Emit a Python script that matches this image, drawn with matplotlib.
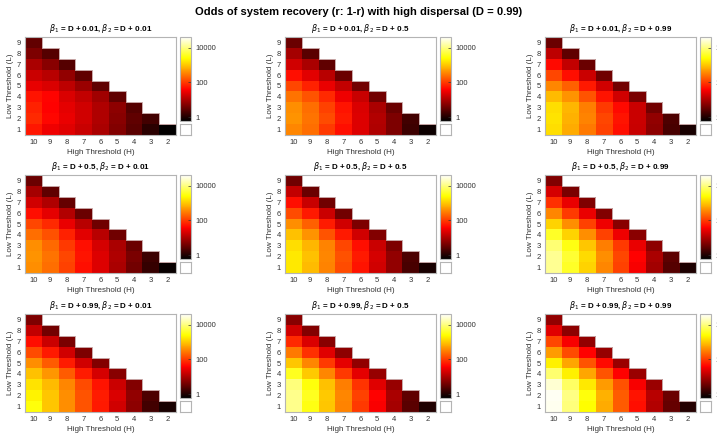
import numpy as np
import matplotlib
matplotlib.use("Agg")
import matplotlib.pyplot as plt
from matplotlib.colors import LogNorm, LinearSegmentedColormap

plt.rcParams["font.family"] = ["Liberation Sans", "DejaVu Sans"]

high_thresholds = [10, 9, 8, 7, 6, 5, 4, 3, 2]
low_thresholds = [1, 2, 3, 4, 5, 6, 7, 8, 9]
beta1_offsets = ["0.01", "0.5", "0.99"]
beta2_offsets = ["0.01", "0.5", "0.99"]

# log10 of odds; one row per low threshold L = 1..9, values for H = 10 down to L+1
odds_01_01 = [
    [1.75, 1.50, 1.38, 1.20, 1.00, 0.72, 0.44, 0.09, -0.20],
    [1.88, 1.65, 1.45, 1.27, 1.03, 0.75, 0.47, 0.27],
    [1.84, 1.60, 1.42, 1.27, 1.03, 0.79, 0.40],
    [1.73, 1.62, 1.34, 1.17, 0.93, 0.47],
    [1.44, 1.34, 1.13, 0.89, 0.47],
    [1.23, 1.10, 0.82, 0.47],
    [1.00, 0.75, 0.40],
    [0.67, 0.40],
    [0.49],
]
odds_01_50 = [
    [2.56, 2.38, 2.00, 1.70, 1.35, 1.03, 0.68, 0.23, -0.12],
    [2.64, 2.42, 2.13, 1.77, 1.36, 1.06, 0.68, 0.27],
    [2.60, 2.38, 2.06, 1.73, 1.34, 1.00, 0.54],
    [2.42, 2.20, 1.88, 1.50, 1.20, 0.61],
    [2.10, 1.84, 1.45, 1.17, 0.61],
    [1.70, 1.40, 1.10, 0.54],
    [1.27, 1.00, 0.47],
    [0.96, 0.44],
    [0.54],
]
odds_01_99 = [
    [3.18, 2.82, 2.46, 2.06, 1.70, 1.20, 0.79, 0.30, -0.05],
    [3.22, 2.86, 2.53, 2.10, 1.73, 1.23, 0.82, 0.34],
    [3.18, 2.90, 2.50, 2.00, 1.66, 1.23, 0.61],
    [2.93, 2.64, 2.20, 1.73, 1.27, 0.65],
    [2.56, 2.28, 1.77, 1.27, 0.61],
    [2.10, 1.70, 1.23, 0.58],
    [1.66, 1.17, 0.54],
    [1.13, 0.47],
    [0.54],
]
odds_50_01 = [
    [2.60, 2.38, 2.06, 1.69, 1.35, 1.00, 0.61, 0.16, -0.15],
    [2.64, 2.42, 2.10, 1.73, 1.36, 1.03, 0.65, 0.23],
    [2.60, 2.35, 2.00, 1.70, 1.30, 1.00, 0.54],
    [2.38, 2.17, 1.84, 1.40, 1.10, 0.58],
    [2.10, 1.88, 1.46, 1.10, 0.58],
    [1.70, 1.42, 1.06, 0.54],
    [1.27, 1.03, 0.51],
    [0.96, 0.47],
    [0.54],
]
odds_50_50 = [
    [3.26, 2.93, 2.53, 2.13, 1.73, 1.27, 0.82, 0.30, -0.05],
    [3.26, 2.96, 2.56, 2.17, 1.77, 1.30, 0.82, 0.34],
    [3.18, 2.90, 2.53, 2.10, 1.70, 1.23, 0.68],
    [2.96, 2.64, 2.20, 1.77, 1.27, 0.72],
    [2.60, 2.28, 1.80, 1.27, 0.68],
    [2.13, 1.77, 1.23, 0.61],
    [1.70, 1.20, 0.58],
    [1.17, 0.54],
    [0.58],
]
odds_50_99 = [
    [4.10, 3.60, 3.10, 2.55, 2.05, 1.55, 0.95, 0.40, 0.00],
    [4.10, 3.65, 3.15, 2.60, 2.10, 1.60, 1.00, 0.45],
    [3.95, 3.50, 3.00, 2.50, 2.00, 1.45, 0.80],
    [3.60, 3.10, 2.60, 2.05, 1.50, 0.78],
    [3.10, 2.60, 2.05, 1.50, 0.75],
    [2.55, 2.00, 1.45, 0.72],
    [1.95, 1.45, 0.70],
    [1.30, 0.65],
    [0.70],
]
odds_99_01 = [
    [3.45, 3.00, 2.60, 2.20, 1.77, 1.27, 0.79, 0.27, -0.05],
    [3.33, 3.00, 2.60, 2.20, 1.80, 1.34, 0.82, 0.34],
    [3.22, 2.93, 2.56, 2.13, 1.73, 1.23, 0.72],
    [2.96, 2.67, 2.24, 1.80, 1.30, 0.75],
    [2.60, 2.24, 1.80, 1.27, 0.72],
    [2.13, 1.77, 1.27, 0.68],
    [1.70, 1.23, 0.65],
    [1.17, 0.61],
    [0.68],
]
odds_99_50 = [
    [4.07, 3.50, 3.00, 2.53, 2.00, 1.57, 0.96, 0.44, 0.02],
    [4.07, 3.55, 3.03, 2.56, 2.06, 1.60, 1.00, 0.47],
    [3.98, 3.45, 2.96, 2.50, 1.97, 1.38, 0.86],
    [3.55, 3.03, 2.56, 2.00, 1.41, 0.86],
    [3.00, 2.56, 2.00, 1.41, 0.82],
    [2.46, 1.95, 1.37, 0.79],
    [1.88, 1.34, 0.75],
    [1.27, 0.72],
    [0.75],
]
odds_99_99 = [
    [4.53, 3.98, 3.40, 2.82, 2.24, 1.69, 1.06, 0.51, 0.05],
    [4.55, 4.03, 3.45, 2.86, 2.24, 1.73, 1.10, 0.54],
    [4.41, 3.88, 3.26, 2.70, 2.17, 1.55, 0.89],
    [3.93, 3.30, 2.78, 2.20, 1.60, 0.89],
    [3.30, 2.78, 2.20, 1.66, 0.89],
    [2.70, 2.13, 1.60, 0.86],
    [2.10, 1.55, 0.82],
    [1.37, 0.79],
    [0.82],
]

panels = [
    [odds_01_01, odds_01_50, odds_01_99],
    [odds_50_01, odds_50_50, odds_50_99],
    [odds_99_01, odds_99_50, odds_99_99],
]

# MATLAB-style "hot" colormap
hot = LinearSegmentedColormap("matlab_hot", {
    "red": [(0, 0, 0), (0.375, 1, 1), (1, 1, 1)],
    "green": [(0, 0, 0), (0.375, 0, 0), (0.75, 1, 1), (1, 1, 1)],
    "blue": [(0, 0, 0), (0.75, 0, 0), (1, 1, 1)],
})
hot.set_bad("white")
norm = LogNorm(vmin=0.6, vmax=42000)

W, H = 717, 438


def px_rect(x0, y0, x1, y1):
    return [x0 / W, 1 - y1 / H, (x1 - x0) / W, (y1 - y0) / H]


def to_grid(rows):
    grid = np.full((len(low_thresholds), len(high_thresholds)), np.nan)
    for i, row in enumerate(rows):
        grid[i, :len(row)] = 10.0 ** np.array(row)
    return grid


fig = plt.figure(figsize=(W / 100, H / 100), dpi=100)
fig.text(0.5, 1 - 12 / H, "Odds of system recovery (r: 1-r) with high dispersal (D = 0.99)",
         ha="center", va="center", fontsize=8, fontweight="bold")

col_left = [25, 285, 545]
row_top = [37, 175, 314]
frame = "#b4b4b4"
txt = "#333333"

for r in range(3):
    for c in range(3):
        x0, y0 = col_left[c], row_top[r]
        ax = fig.add_axes(px_rect(x0, y0, x0 + 151, y0 + 98))
        grid = to_grid(panels[r][c])
        ax.imshow(grid, origin="lower", cmap=hot, norm=norm, aspect="auto",
                  interpolation="nearest", extent=(-0.5, 8.5, -0.5, 8.5))
        # outline of the triangle
        sx, sy = [-0.5], [8.5]
        for j in range(len(high_thresholds)):
            top = len(low_thresholds) - j - 0.5
            sx += [j - 0.5, j + 0.5]
            sy += [top, top]
        sx.append(8.5)
        sy.append(-0.5)
        ax.plot(sx, sy, color="#c8a8a8", lw=0.7)
        ax.set_xlim(-0.5, 8.5)
        ax.set_ylim(-0.5, 8.5)
        ax.set_xticks(range(len(high_thresholds)))
        ax.set_xticklabels(high_thresholds)
        ax.set_yticks(range(len(low_thresholds)))
        ax.set_yticklabels(low_thresholds)
        ax.tick_params(length=0, labelsize=5.5, colors=txt, pad=3)
        for s in ax.spines.values():
            s.set_color(frame)
            s.set_linewidth(0.8)
        ax.set_xlabel("High Threshold (H)", fontsize=5.8, color=txt, labelpad=2)
        ax.set_ylabel("Low Threshold (L)", fontsize=5.8, color=txt, labelpad=2)
        ax.set_title(rf"$\beta_1$ = D + {beta1_offsets[r]}, $\beta_2$ = D + {beta2_offsets[c]}",
                     fontsize=5.8, fontweight="bold", pad=4)

        cx = x0 + 155
        cax = fig.add_axes(px_rect(cx, y0, cx + 11, y0 + 84))
        sm = plt.cm.ScalarMappable(norm=norm, cmap=hot)
        cb = fig.colorbar(sm, cax=cax)
        cb.set_ticks([1, 100, 10000])
        cb.set_ticklabels(["1", "100", "10000"])
        cb.minorticks_off()
        cb.outline.set_edgecolor(frame)
        cb.outline.set_linewidth(0.8)
        cax.tick_params(length=2, width=0.5, direction="in", labelsize=5.5,
                        colors=txt, pad=3)

        bax = fig.add_axes(px_rect(cx, y0 + 87, cx + 11, y0 + 98))
        bax.set_xticks([])
        bax.set_yticks([])
        for s in bax.spines.values():
            s.set_color(frame)
            s.set_linewidth(0.8)

fig.savefig("out.png", dpi=100)
